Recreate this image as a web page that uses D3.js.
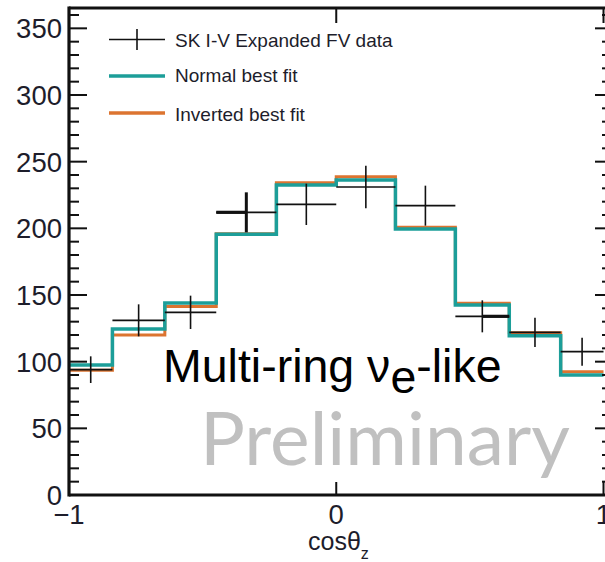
<!DOCTYPE html>
<html>
<head>
<meta charset="utf-8">
<script src="https://cdn.jsdelivr.net/npm/d3@7"></script>
<style>
  html, body { margin: 0; padding: 0; background: #fff; }
  svg { display: block; }
</style>
</head>
<body>
<svg id="chart" width="605" height="562"></svg>
<script>
// ---- data ----
const binEdges = [-1, -0.8375, -0.6414, -0.449, -0.224, 0, 0.2215, 0.4457, 0.6474, 0.8398, 1];
const dataCounts = [94, 131, 137, 212, 218, 231, 217, 134, 122, 107.5];
const dataErrors = [10, 12, 12.5, 15, 15.5, 16, 15, 12, 11, 10.5];
const normalFit = [97.5, 124.5, 144, 195.5, 232.5, 236.3, 199.5, 142.5, 119.5, 90];
const invertedFit = [93.5, 120, 141.3, 196, 234.2, 238.7, 200.8, 143.8, 121.7, 92.5];
const xTickValues = [-1, 0, 1];
const xTickLabels = ["\u22121", "0", "1"];
const yMajorTicks = [0, 50, 100, 150, 200, 250, 300, 350];
const legendLabels = ["SK I-V Expanded FV data", "Normal best fit", "Inverted best fit"];

(function () {
// ---- layout ----
const svg = d3.select("#chart");
const pLeft = 69, pRight = 603.5, pTop = 8, pBottom = 495;
const x = d3.scaleLinear().domain([-1, 1]).range([pLeft, pRight]);
const y = d3.scaleLinear().domain([0, 365.25]).range([pBottom, pTop]);

const colNormal = "#1c9e99";
const colInverted = "#dc7430";
const font = "'Liberation Sans', Arial, sans-serif";

// ---- histograms ----
function stepPoints(vals) {
  const pts = vals.map((v, i) => [binEdges[i], v]);
  pts.push([binEdges[binEdges.length - 1], vals[vals.length - 1]]);
  return pts;
}
const stepLine = d3.line().x(d => x(d[0])).y(d => y(d[1])).curve(d3.curveStepAfter);

svg.append("path").attr("d", stepLine(stepPoints(invertedFit)))
  .attr("fill", "none").attr("stroke", colInverted).attr("stroke-width", 3);
svg.append("path").attr("d", stepLine(stepPoints(normalFit)))
  .attr("fill", "none").attr("stroke", colNormal).attr("stroke-width", 3.5);

// ---- data crosses ----
const boldPart = [null, null, null, "left", null, null, null, "right", null, null];
const gData = svg.append("g").attr("stroke", "#111");
dataCounts.forEach((v, i) => {
  const x0 = x(binEdges[i]), x1 = x(binEdges[i + 1]);
  const xc = (x0 + x1) / 2;
  gData.append("line").attr("x1", x0).attr("x2", x1).attr("y1", y(v)).attr("y2", y(v))
    .attr("stroke-width", 1.6);
  gData.append("line").attr("x1", xc).attr("x2", xc)
    .attr("y1", y(v - dataErrors[i])).attr("y2", y(v + dataErrors[i]))
    .attr("stroke-width", boldPart[i] === "left" ? 3 : 1.6);
  if (boldPart[i]) {
    const a = boldPart[i] === "left" ? x0 : xc, b = boldPart[i] === "left" ? xc : x1;
    gData.append("line").attr("x1", a).attr("x2", b).attr("y1", y(v)).attr("y2", y(v))
      .attr("stroke-width", 3.2);
  }
});

// ---- axes / frame ----
const axG = svg.append("g").attr("stroke", "#111");
d3.range(0, 361, 10).forEach(t => {
  const major = t % 50 === 0;
  axG.append("line").attr("x1", pLeft).attr("x2", pLeft + (major ? 18 : 10))
    .attr("y1", y(t)).attr("y2", y(t)).attr("stroke-width", 2);
  axG.append("line").attr("x1", 606).attr("x2", 606 - (major ? 11 : 4))
    .attr("y1", y(t)).attr("y2", y(t)).attr("stroke-width", 2);
});
xTickValues.forEach(t => {
  axG.append("line").attr("x1", x(t)).attr("x2", x(t)).attr("y1", pBottom).attr("y2", pBottom - 13)
    .attr("stroke-width", 2);
  axG.append("line").attr("x1", x(t)).attr("x2", x(t)).attr("y1", pTop).attr("y2", pTop + 15)
    .attr("stroke-width", 2);
});
axG.append("line").attr("x1", pLeft).attr("x2", 607).attr("y1", pBottom).attr("y2", pBottom).attr("stroke-width", 3.2);
axG.append("line").attr("x1", pLeft).attr("x2", 607).attr("y1", pTop).attr("y2", pTop).attr("stroke-width", 3.2);
axG.append("line").attr("x1", pLeft).attr("x2", pLeft).attr("y1", pTop - 1.5).attr("y2", pBottom + 1.5).attr("stroke-width", 3.2);

// tick labels
const tickCol = "#1d1d2b";
svg.append("g").selectAll("text").data(yMajorTicks).join("text")
  .attr("x", 62).attr("y", d => y(d)).attr("dy", "0.36em")
  .attr("text-anchor", "end").attr("font-family", font).attr("font-size", 27.5)
  .attr("fill", tickCol).text(d => d);
svg.append("g").selectAll("text").data(xTickValues).join("text")
  .attr("x", d => x(d)).attr("y", 524).attr("text-anchor", "middle")
  .attr("font-family", font).attr("font-size", 27.5).attr("fill", tickCol)
  .text((d, i) => xTickLabels[i]);

// x axis title
const xt = svg.append("text").attr("x", 308).attr("y", 550)
  .attr("font-family", font).attr("font-size", 25).attr("fill", tickCol);
xt.append("tspan").text("cos\u03b8");
xt.append("tspan").attr("dy", 9).attr("font-size", 16).text("z");

// ---- legend ----
const lg = svg.append("g");
const lx0 = 109, lx1 = 165, ltx = 175;
const rowY = [39.5, 76, 113];
lg.append("line").attr("x1", lx0).attr("x2", lx1).attr("y1", rowY[0]).attr("y2", rowY[0])
  .attr("stroke", "#111").attr("stroke-width", 1.6);
lg.append("line").attr("x1", (lx0 + lx1) / 2).attr("x2", (lx0 + lx1) / 2)
  .attr("y1", rowY[0] - 10.5).attr("y2", rowY[0] + 10.5).attr("stroke", "#111").attr("stroke-width", 1.6);
lg.append("line").attr("x1", lx0).attr("x2", lx1).attr("y1", rowY[1]).attr("y2", rowY[1])
  .attr("stroke", colNormal).attr("stroke-width", 3.5);
lg.append("line").attr("x1", lx0).attr("x2", lx1).attr("y1", rowY[2]).attr("y2", rowY[2])
  .attr("stroke", colInverted).attr("stroke-width", 3.5);
const textBase = [46.7, 81.7, 120.7];
legendLabels.forEach((t, i) => {
  lg.append("text").attr("x", ltx).attr("y", textBase[i])
    .attr("font-family", font).attr("font-size", 19).attr("fill", "#1d1d2b").text(t);
});

// ---- annotation ----
const ann = svg.append("text").attr("x", 163).attr("y", 381.5)
  .attr("font-family", font).attr("font-size", 46.5).attr("fill", "#000");
ann.append("tspan").text("Multi-ring \u03bd");
ann.append("tspan").attr("dy", 11).text("e");
ann.append("tspan").attr("dy", -11).text("-like");

svg.append("text").attr("x", 200).attr("y", 465)
  .attr("font-family", "Lato, 'Open Sans', sans-serif").attr("font-size", 74)
  .attr("fill", "#c0c0c0").attr("textLength", 370).attr("lengthAdjust", "spacingAndGlyphs")
  .text("Preliminary");
})();
</script>
</body>
</html>
